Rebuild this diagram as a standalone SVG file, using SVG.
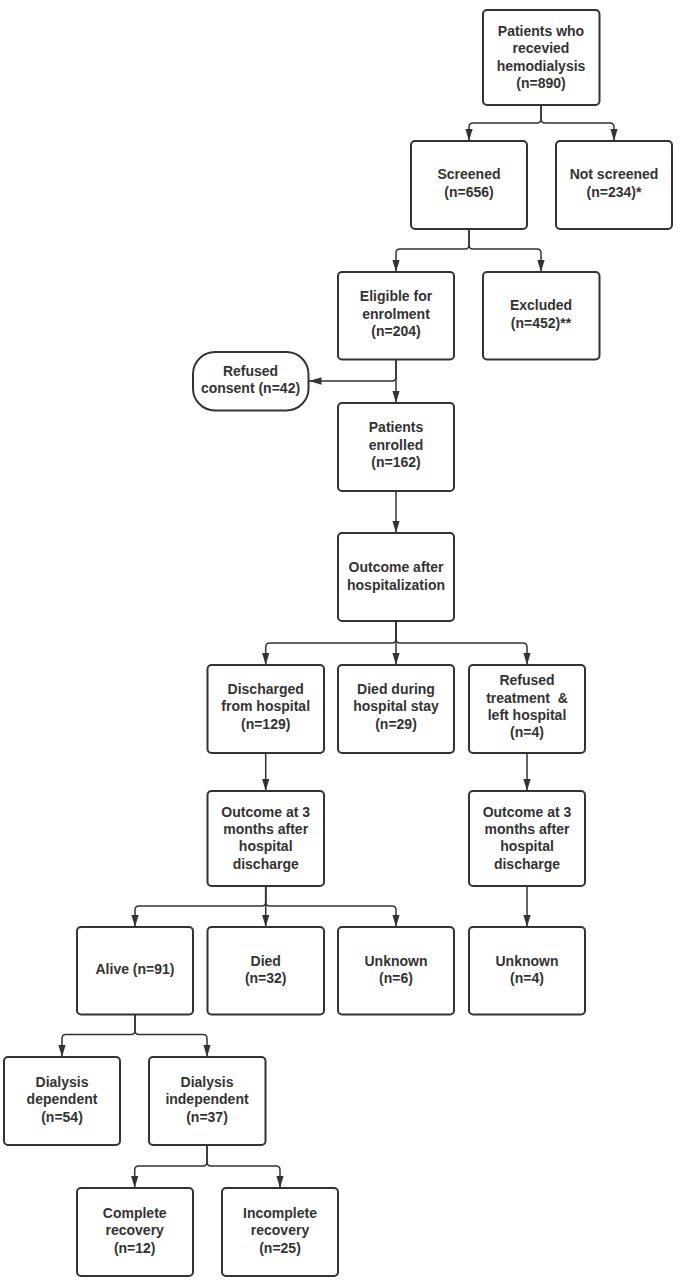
<svg xmlns="http://www.w3.org/2000/svg" width="684" height="1283" viewBox="0 0 684 1283">
<style>
.box{fill:#ffffff;stroke:#333333;stroke-width:2}
.t{font-family:"Liberation Sans",Arial,sans-serif;font-weight:bold;font-size:14px;fill:#333333;text-anchor:middle;white-space:pre}
.c{fill:none;stroke:#333333;stroke-width:1.5}
</style>
<defs>
<marker id="ah" markerUnits="userSpaceOnUse" markerWidth="13" markerHeight="9" refX="12.5" refY="4.5" orient="auto">
<path d="M0,0.75 L12.5,4.5 L0,8.25 z" fill="#333333"/>
</marker>
</defs>
<rect width="684" height="1283" fill="#ffffff"/>
<g id="connectors">
<path class="c" marker-end="url(#ah)" d="M541,105 V119 Q541,123 537,123 H473 Q469,123 469,127 V141"/>
<path class="c" marker-end="url(#ah)" d="M541,105 V119 Q541,123 545,123 H610 Q614,123 614,127 V141"/>
<path class="c" marker-end="url(#ah)" d="M469,229 V245 Q469,249 465,249 H400 Q396,249 396,253 V272"/>
<path class="c" marker-end="url(#ah)" d="M469,229 V245 Q469,249 473,249 H537 Q541,249 541,253 V272"/>
<path class="c" marker-end="url(#ah)" d="M396,359.5 V403"/>
<path class="c" marker-end="url(#ah)" d="M396,359.5 V377 Q396,381 392,381 H309"/>
<path class="c" marker-end="url(#ah)" d="M396,491 V533"/>
<path class="c" marker-end="url(#ah)" d="M396,621 V639 Q396,643 392,643 H269.7 Q265.7,643 265.7,647 V665"/>
<path class="c" marker-end="url(#ah)" d="M396,621 V665"/>
<path class="c" marker-end="url(#ah)" d="M396,621 V639 Q396,643 400,643 H523 Q527,643 527,647 V665"/>
<path class="c" marker-end="url(#ah)" d="M265.7,753 V791"/>
<path class="c" marker-end="url(#ah)" d="M527,753 V791"/>
<path class="c" marker-end="url(#ah)" d="M265.7,886 V902 Q265.7,906 261.7,906 H139 Q135,906 135,910 V927"/>
<path class="c" marker-end="url(#ah)" d="M265.7,886 V927"/>
<path class="c" marker-end="url(#ah)" d="M265.7,886 V902 Q265.7,906 269.7,906 H392 Q396,906 396,910 V927"/>
<path class="c" marker-end="url(#ah)" d="M527,886 V927"/>
<path class="c" marker-end="url(#ah)" d="M135,1014.5 V1030.5 Q135,1034.5 131,1034.5 H66 Q62,1034.5 62,1038.5 V1057"/>
<path class="c" marker-end="url(#ah)" d="M135,1014.5 V1030.5 Q135,1034.5 139,1034.5 H203 Q207,1034.5 207,1038.5 V1057"/>
<path class="c" marker-end="url(#ah)" d="M207,1145 V1162 Q207,1166 203,1166 H138.7 Q134.7,1166 134.7,1170 V1188"/>
<path class="c" marker-end="url(#ah)" d="M207,1145 V1162 Q207,1166 211,1166 H276 Q280,1166 280,1170 V1188"/>
</g>
<g id="n-top"><rect class="box" x="483" y="10" width="116.5" height="95" rx="4"/>
<text class="t" x="541" y="36">Patients who</text><text class="t" x="541" y="53.3">recevied</text><text class="t" x="541" y="70.7">hemodialysis</text><text class="t" x="541" y="88">(n=890)</text></g>
<g id="n-screened"><rect class="box" x="411" y="141" width="116" height="88" rx="4"/>
<text class="t" x="469" y="179.3">Screened</text><text class="t" x="469" y="197">(n=656)</text></g>
<g id="n-notscreened"><rect class="box" x="556" y="141" width="116" height="88" rx="4"/>
<text class="t" x="614" y="179.3">Not screened</text><text class="t" x="614" y="197">(n=234)*</text></g>
<g id="n-eligible"><rect class="box" x="338" y="272" width="116" height="87.5" rx="4"/>
<text class="t" x="396" y="301.3">Eligible for</text><text class="t" x="396" y="318.7">enrolment</text><text class="t" x="396" y="336">(n=204)</text></g>
<g id="n-excluded"><rect class="box" x="483" y="272" width="116.5" height="87.5" rx="4"/>
<text class="t" x="541" y="310">Excluded</text><text class="t" x="541" y="327.7">(n=452)**</text></g>
<g id="n-refused-consent"><rect class="box" x="193" y="352" width="115.5" height="58.5" rx="22"/>
<text class="t" x="250.5" y="375.7">Refused</text><text class="t" x="250.5" y="393">consent (n=42)</text></g>
<g id="n-enrolled"><rect class="box" x="338" y="403" width="116" height="88" rx="4"/>
<text class="t" x="396" y="432.3">Patients</text><text class="t" x="396" y="449.7">enrolled</text><text class="t" x="396" y="467">(n=162)</text></g>
<g id="n-outcome-hosp"><rect class="box" x="338" y="533" width="116" height="88" rx="4"/>
<text class="t" x="396" y="572">Outcome after</text><text class="t" x="396" y="589.7">hospitalization</text></g>
<g id="n-discharged"><rect class="box" x="207.5" y="665" width="116.5" height="88" rx="4"/>
<text class="t" x="265.7" y="694">Discharged</text><text class="t" x="265.7" y="711.3">from hospital</text><text class="t" x="265.7" y="728.7">(n=129)</text></g>
<g id="n-died-stay"><rect class="box" x="338" y="665" width="116" height="88" rx="4"/>
<text class="t" x="396" y="694">Died during</text><text class="t" x="396" y="711.3">hospital stay</text><text class="t" x="396" y="728.7">(n=29)</text></g>
<g id="n-refused-treatment"><rect class="box" x="469" y="665" width="116" height="88" rx="4"/>
<text class="t" x="527" y="685.3">Refused</text><text class="t" x="527" y="702.7">treatment  &amp;</text><text class="t" x="527" y="720">left hospital</text><text class="t" x="527" y="737.3">(n=4)</text></g>
<g id="n-outcome3-left"><rect class="box" x="207.5" y="791" width="116.5" height="95" rx="4"/>
<text class="t" x="265.7" y="816.7">Outcome at 3</text><text class="t" x="265.7" y="834">months after</text><text class="t" x="265.7" y="851.3">hospital</text><text class="t" x="265.7" y="868.7">discharge</text></g>
<g id="n-outcome3-right"><rect class="box" x="469" y="791" width="116" height="95" rx="4"/>
<text class="t" x="527" y="816.7">Outcome at 3</text><text class="t" x="527" y="834">months after</text><text class="t" x="527" y="851.3">hospital</text><text class="t" x="527" y="868.7">discharge</text></g>
<g id="n-alive"><rect class="box" x="77" y="927" width="116" height="87.5" rx="4"/>
<text class="t" x="135" y="974">Alive (n=91)</text></g>
<g id="n-died"><rect class="box" x="207.5" y="927" width="116.5" height="87.5" rx="4"/>
<text class="t" x="265.7" y="965.8">Died</text><text class="t" x="265.7" y="983.2">(n=32)</text></g>
<g id="n-unknown6"><rect class="box" x="338" y="927" width="116" height="87.5" rx="4"/>
<text class="t" x="396" y="965.8">Unknown</text><text class="t" x="396" y="983.2">(n=6)</text></g>
<g id="n-unknown4"><rect class="box" x="469" y="927" width="116" height="87.5" rx="4"/>
<text class="t" x="527" y="965.8">Unknown</text><text class="t" x="527" y="983.2">(n=4)</text></g>
<g id="n-dial-dep"><rect class="box" x="4" y="1057" width="116" height="88" rx="4"/>
<text class="t" x="62" y="1086.7">Dialysis</text><text class="t" x="62" y="1104">dependent</text><text class="t" x="62" y="1121.5">(n=54)</text></g>
<g id="n-dial-indep"><rect class="box" x="149" y="1057" width="116.5" height="88" rx="4"/>
<text class="t" x="207" y="1086.7">Dialysis</text><text class="t" x="207" y="1104">independent</text><text class="t" x="207" y="1121.5">(n=37)</text></g>
<g id="n-complete"><rect class="box" x="77" y="1188" width="116" height="88" rx="4"/>
<text class="t" x="134.7" y="1217.7">Complete</text><text class="t" x="134.7" y="1235">recovery</text><text class="t" x="134.7" y="1252.5">(n=12)</text></g>
<g id="n-incomplete"><rect class="box" x="222" y="1188" width="116" height="88" rx="4"/>
<text class="t" x="280" y="1217.7">Incomplete</text><text class="t" x="280" y="1235">recovery</text><text class="t" x="280" y="1252.5">(n=25)</text></g>
</svg>
